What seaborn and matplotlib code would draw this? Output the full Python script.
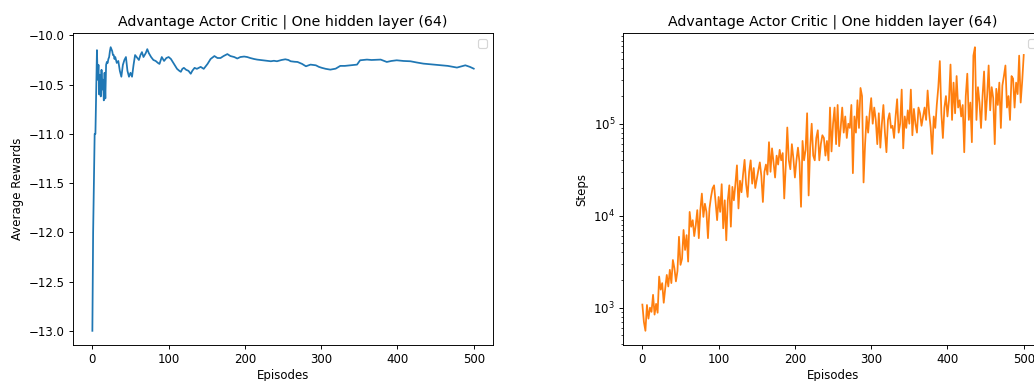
import numpy as np
import matplotlib
matplotlib.use("Agg")
import matplotlib.pyplot as plt
import seaborn as sns

title = "Advantage Actor Critic | One hidden layer (64)"

# left panel: running average reward per episode
reward_eps = [0, 1, 2, 3, 4, 5, 6, 7, 8, 9, 10, 11, 12, 13, 14, 15, 16, 17, 18, 19,
              20, 21, 22, 23, 24, 25, 26, 27, 28, 29, 30, 32, 34, 36, 38, 40, 42, 44,
              46, 48, 50, 52, 54, 56, 58, 61, 63, 65, 67, 70, 72, 74, 77, 80, 83, 86,
              88, 91, 94, 97, 100, 103, 107, 111, 114, 116, 118, 120, 123, 126, 129,
              131, 134, 137, 142, 146, 151, 155, 160, 164, 168, 172, 177, 181, 186,
              190, 194, 199, 203, 207, 212, 216, 220, 225, 230, 234, 238, 242, 248,
              253, 257, 260, 265, 269, 275, 280, 286, 293, 297, 301, 306, 312, 319,
              325, 331, 338, 343, 347, 351, 355, 360, 366, 372, 378, 386, 392, 399,
              408, 417, 425, 434, 445, 456, 466, 478, 484, 489, 495, 500]
avg_reward = [-13.0, -12.0, -11.5, -11.0, -11.0, -10.6, -10.15, -10.45, -10.3, -10.6,
              -10.4, -10.62, -10.35, -10.55, -10.45, -10.66, -10.38, -10.64, -10.3,
              -10.27, -10.28, -10.24, -10.22, -10.16, -10.12, -10.14, -10.16, -10.2,
              -10.2, -10.24, -10.22, -10.28, -10.26, -10.36, -10.42, -10.3, -10.25,
              -10.22, -10.36, -10.42, -10.38, -10.42, -10.3, -10.2, -10.22, -10.25,
              -10.2, -10.17, -10.22, -10.18, -10.14, -10.18, -10.22, -10.25, -10.26,
              -10.28, -10.29, -10.22, -10.26, -10.23, -10.22, -10.24, -10.29, -10.34,
              -10.36, -10.37, -10.34, -10.33, -10.35, -10.36, -10.39, -10.36, -10.33,
              -10.34, -10.32, -10.34, -10.29, -10.24, -10.21, -10.23, -10.23, -10.21,
              -10.19, -10.21, -10.22, -10.235, -10.22, -10.215, -10.22, -10.23, -10.24,
              -10.246, -10.25, -10.256, -10.26, -10.263, -10.258, -10.263, -10.25,
              -10.243, -10.25, -10.263, -10.268, -10.27, -10.29, -10.314, -10.297,
              -10.304, -10.32, -10.33, -10.34, -10.348, -10.338, -10.31, -10.31,
              -10.304, -10.3, -10.297, -10.253, -10.25, -10.246, -10.25, -10.248,
              -10.246, -10.27, -10.26, -10.253, -10.26, -10.263, -10.275, -10.287,
              -10.295, -10.304, -10.31, -10.327, -10.315, -10.304, -10.32, -10.338]

# right panel: steps per episode, read every 2nd episode
steps = [
    1080, 700, 560, 1070, 760, 1000, 900, 1380, 840, 1100,
    880, 2180, 1570, 1850, 1130, 1630, 2270, 1700, 2580, 1850,
    3300, 2690, 1930, 2500, 5900, 2920, 3400, 7000, 4240, 6150,
    3170, 11000, 7580, 8940, 6000, 7900, 11500, 5700, 11500, 17400,
    9700, 13500, 11000, 5700, 12000, 16000, 19800, 21400, 14100, 8940,
    16000, 11000, 22000, 7300, 14700, 5400, 14700, 21400, 7600, 20600,
    14700, 22300, 35300, 12000, 24000, 18000, 28000, 40500, 22000, 16000,
    30000, 40000, 22300, 33000, 20000, 25000, 31000, 38000, 27000, 14100,
    30000, 36000, 28000, 63000, 30000, 54000, 38000, 26000, 45000, 36000,
    52000, 40000, 48000, 15400, 35000, 91000, 40000, 32000, 60000, 42000,
    26000, 40000, 55000, 38000, 12500, 65000, 40000, 52000, 130000, 16600,
    55000, 100000, 45000, 40000, 70000, 85000, 40000, 60000, 75000, 70000,
    45000, 65000, 40000, 150000, 50000, 100000, 150000, 60000, 160000, 57000,
    90000, 150000, 80000, 120000, 70000, 100000, 90000, 160000, 29000, 120000,
    80000, 180000, 90000, 245000, 200000, 23000, 60000, 120000, 80000, 130000,
    190000, 100000, 150000, 110000, 60000, 130000, 55000, 100000, 160000, 80000,
    49000, 110000, 130000, 90000, 95000, 70000, 120000, 185000, 80000, 100000,
    235000, 54000, 120000, 90000, 140000, 100000, 235000, 75000, 145000, 100000,
    80000, 150000, 130000, 95000, 120000, 150000, 110000, 230000, 130000, 90000,
    47000, 120000, 90000, 160000, 250000, 480000, 130000, 70000, 150000, 200000,
    120000, 180000, 440000, 110000, 280000, 130000, 330000, 150000, 180000, 120000,
    160000, 49000, 200000, 350000, 110000, 170000, 63000, 550000, 680000, 110000,
    250000, 170000, 90000, 200000, 370000, 110000, 200000, 430000, 140000, 250000,
    190000, 60000, 240000, 160000, 280000, 90000, 260000, 330000, 430000, 150000,
    200000, 110000, 330000, 310000, 150000, 280000, 210000, 550000, 170000, 290000,
    560000]
steps_eps = np.arange(len(steps)) * 2

# the reference looks like a downscaled render, so shrink everything via dpi
dpi = 84.4
fig = plt.figure(figsize=(1034 / dpi, 381 / dpi), dpi=dpi)
ax1 = fig.add_axes([73.3 / 1034, 36 / 381, 419.5 / 1034, 312 / 381])
ax2 = fig.add_axes([623.3 / 1034, 36 / 381, 419.5 / 1034, 312 / 381])

sns.lineplot(x=reward_eps, y=avg_reward, ax=ax1, color="#1f77b4", linewidth=1.5)
ax1.set_title(title)
ax1.set_xlabel("Episodes", labelpad=2.5)
ax1.set_ylabel("Average Rewards")
ax1.legend(handles=[], loc="upper right")

sns.lineplot(x=steps_eps, y=steps, ax=ax2, color="#ff7f0e", linewidth=1.5)
ax2.set_yscale("log")
ax2.set_title(title)
ax2.set_xlabel("Episodes", labelpad=2.5)
ax2.set_ylabel("Steps")
ax2.legend(handles=[], loc="upper right")

fig.savefig("out.png", dpi=dpi)
